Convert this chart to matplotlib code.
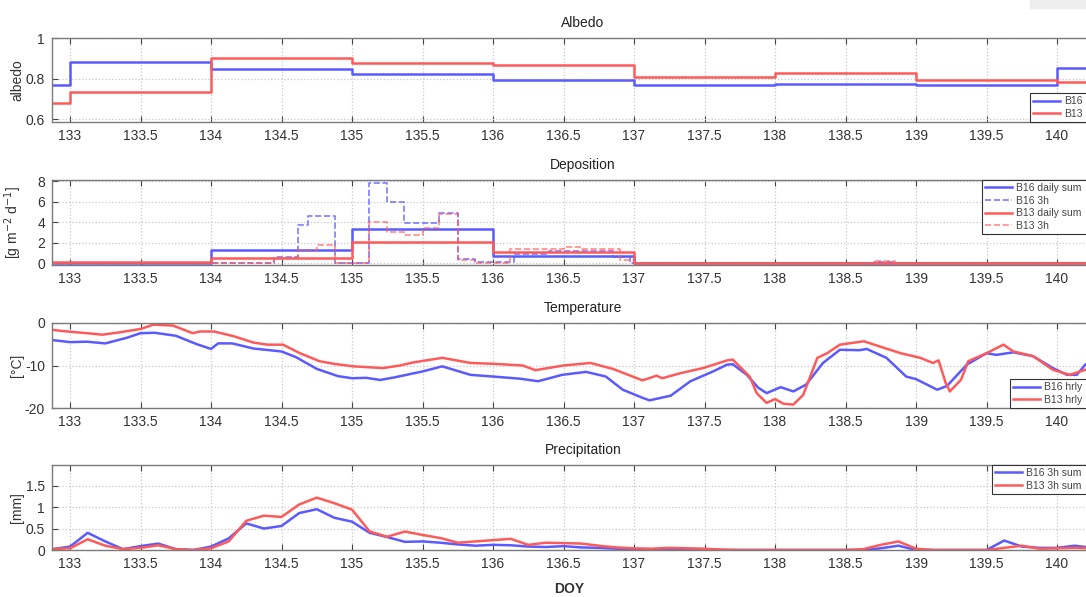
import matplotlib
matplotlib.use("Agg")
import matplotlib.pyplot as plt
from matplotlib.patches import Rectangle

plt.rcParams['font.family'] = ['Liberation Sans', 'DejaVu Sans']

BLUE = '#5a5aff'
RED = '#ff5a5a'

# --- albedo, daily values (step starts) ---
alb_t = [132.5, 133, 134, 135, 136, 137, 138, 139, 140, 141]
alb_b16 = [0.771, 0.884, 0.847, 0.824, 0.795, 0.767, 0.774, 0.771, 0.852, 0.852]
alb_b13 = [0.678, 0.735, 0.900, 0.877, 0.865, 0.806, 0.828, 0.795, 0.784, 0.784]

# --- deposition [g m-2 d-1] ---
dep_day_t = [132.5, 134, 135, 136, 137, 141]
dep_day_b16 = [0.05, 1.3, 3.36, 0.72, 0.05, 0.05]
dep_day_b13 = [0.1, 0.49, 2.1, 1.14, 0.05, 0.05]

dep3_t_b16 = [132.5, 134.45, 134.62, 134.69, 134.88, 135.12, 135.25, 135.37, 135.62,
              135.75, 135.87, 136.15, 136.4, 136.85, 136.97, 138.7, 138.85, 141]
dep3_b16 = [0.05, 0.6, 3.7, 4.6, 0.0, 7.8, 6.0, 3.9, 4.9,
            0.4, 0.1, 0.9, 1.2, 0.6, 0.05, 0.1, 0.05, 0.05]
dep3_t_b13 = [132.5, 134.45, 134.62, 134.75, 134.88, 135.12, 135.25, 135.37, 135.5,
              135.62, 135.75, 135.87, 136.12, 136.5, 136.62, 136.9, 137.0, 138.7,
              138.85, 141]
dep3_b13 = [0.05, 0.5, 1.3, 1.8, 0.0, 4.0, 3.1, 2.8, 3.4,
            4.8, 0.3, 0.0, 1.4, 1.6, 1.4, 0.3, 0.05, 0.25,
            0.05, 0.05]

# --- temperature [degC], hourly ---
temp_t_b16 = [132.87, 133.0, 133.12, 133.25, 133.4, 133.5, 133.6, 133.75, 133.9, 134.0,
              134.05, 134.15, 134.3, 134.5, 134.6, 134.75, 134.9, 135.0, 135.1, 135.2,
              135.3, 135.5, 135.64, 135.84, 136.0, 136.19, 136.32, 136.49, 136.66, 136.8,
              136.92, 137.06, 137.11, 137.26, 137.4, 137.56, 137.66, 137.7, 137.8, 137.88,
              137.94, 138.04, 138.13, 138.22, 138.34, 138.46, 138.6, 138.65, 138.79, 138.93,
              139.0, 139.15, 139.22, 139.36, 139.5, 139.57, 139.69, 139.83, 139.97, 140.07,
              140.14, 140.2, 140.3]
temp_b16 = [-4.0, -4.5, -4.4, -4.8, -3.5, -2.4, -2.3, -3.0, -5.0, -6.1,
            -4.8, -4.8, -6.0, -6.7, -8.0, -10.8, -12.5, -13.0, -12.9, -13.4,
            -12.8, -11.4, -10.2, -12.2, -12.6, -13.1, -13.7, -12.2, -11.5, -12.6,
            -15.7, -17.6, -18.2, -17.1, -13.7, -11.4, -9.8, -9.7, -12.2, -15.2,
            -16.5, -15.1, -16.1, -14.5, -9.4, -6.3, -6.4, -6.1, -8.2, -12.6,
            -13.2, -15.7, -14.8, -9.8, -7.1, -7.5, -6.9, -7.8, -10.6, -12.2,
            -12.2, -9.8, -8.0]
temp_t_b13 = [132.87, 132.98, 133.12, 133.23, 133.35, 133.5, 133.59, 133.73, 133.87, 133.92,
              134.02, 134.16, 134.3, 134.4, 134.51, 134.63, 134.77, 134.87, 135.01, 135.22,
              135.34, 135.43, 135.64, 135.84, 136.0, 136.21, 136.3, 136.5, 136.69, 136.85,
              136.99, 137.06, 137.16, 137.2, 137.33, 137.49, 137.66, 137.7, 137.82, 137.87,
              137.94, 138.0, 138.06, 138.13, 138.2, 138.3, 138.37, 138.46, 138.63, 138.74,
              138.89, 139.03, 139.12, 139.16, 139.21, 139.24, 139.32, 139.37, 139.5, 139.62,
              139.69, 139.83, 139.97, 140.09, 140.2, 140.3]
temp_b13 = [-1.6, -2.0, -2.4, -2.75, -2.2, -1.4, -0.4, -0.6, -2.4, -2.0,
            -2.0, -3.1, -4.6, -5.1, -5.1, -7.1, -9.0, -9.6, -10.2, -10.6,
            -10.0, -9.3, -8.2, -9.4, -9.6, -10.0, -11.1, -10.0, -9.4, -10.8,
            -12.6, -13.5, -12.4, -13.0, -11.8, -10.6, -8.8, -8.6, -12.6, -16.5,
            -18.8, -17.9, -19.0, -19.2, -16.9, -8.2, -7.1, -5.1, -4.3, -5.5,
            -7.1, -8.2, -9.4, -8.8, -14.1, -16.1, -13.3, -9.0, -7.1, -5.1,
            -6.7, -7.8, -11.0, -12.2, -11.0, -10.5]

# --- precipitation [mm], 3h sums ---
prec_t = [132.875, 133.0, 133.125, 133.25, 133.375, 133.5, 133.625, 133.75, 133.875, 134.0,
          134.125, 134.25, 134.375, 134.5, 134.625, 134.75, 134.875, 135.0, 135.125, 135.25,
          135.375, 135.5, 135.625, 135.75, 135.875, 136.0, 136.125, 136.25, 136.375, 136.5,
          136.625, 136.75, 136.875, 137.0, 137.125, 137.25, 137.375, 137.5, 137.625, 137.75,
          137.875, 138.0, 138.125, 138.25, 138.375, 138.5, 138.625, 138.75, 138.875, 139.0,
          139.125, 139.25, 139.375, 139.5, 139.625, 139.75, 139.875, 140.0, 140.125, 140.25]
prec_b16 = [0.02, 0.08, 0.40, 0.20, 0.02, 0.09, 0.15, 0.02, 0.0, 0.08,
            0.27, 0.62, 0.50, 0.56, 0.86, 0.95, 0.75, 0.66, 0.40, 0.30,
            0.19, 0.20, 0.17, 0.13, 0.10, 0.12, 0.11, 0.08, 0.07, 0.09,
            0.06, 0.05, 0.03, 0.02, 0.01, 0.02, 0.0, 0.02, 0.0, 0.0,
            0.0, 0.0, 0.0, 0.0, 0.0, 0.0, 0.0, 0.04, 0.10, 0.0,
            0.0, 0.0, 0.0, 0.0, 0.22, 0.08, 0.05, 0.05, 0.10, 0.05]
prec_b13 = [0.02, 0.04, 0.25, 0.10, 0.02, 0.05, 0.11, 0.02, 0.0, 0.04,
            0.20, 0.68, 0.80, 0.77, 1.06, 1.22, 1.09, 0.94, 0.43, 0.31,
            0.43, 0.35, 0.28, 0.17, 0.20, 0.23, 0.26, 0.12, 0.17, 0.16,
            0.15, 0.10, 0.06, 0.04, 0.03, 0.05, 0.04, 0.03, 0.01, 0.0,
            0.0, 0.0, 0.0, 0.0, 0.0, 0.0, 0.02, 0.12, 0.20, 0.03,
            0.0, 0.0, 0.0, 0.0, 0.05, 0.10, 0.03, 0.04, 0.05, 0.04]

xticks = [133, 133.5, 134, 134.5, 135, 135.5, 136, 136.5, 137, 137.5, 138, 138.5, 139, 139.5, 140]
xtick_labels = ['%g' % v for v in xticks]

W, H = 1086, 597
FRAME = '#7a7a7a'


def style_axis(ax, yticks, ylabels, ylabel, title):
    ax.set_xlim(132.872, 140.404)
    ax.set_xticks(xticks)
    ax.set_xticklabels(xtick_labels)
    ax.set_yticks(yticks)
    ax.set_yticklabels(ylabels)
    ax.grid(True, color='#c8c8c8', linestyle=':', linewidth=0.9)
    ax.tick_params(direction='in', length=4, top=True, right=True, color='#444444',
                   labelsize=10, labelcolor='#333333', pad=5)
    for s in ax.spines.values():
        s.set_color(FRAME)
        s.set_linewidth(1.0)
    ax.set_ylabel(ylabel, fontsize=10, color='#333333', labelpad=3)
    ax.set_title(title, fontsize=10, color='#222222', pad=8)


def legend_at(ax, loc, x_px, y_px, fontsize=7.5):
    # the legend frame runs past the right edge of the figure, as in the screenshot
    leg = ax.legend(loc=loc, bbox_to_anchor=(x_px / W, 1 - y_px / H, (1100 - x_px) / W, 0),
                    bbox_transform=ax.figure.transFigure, mode='expand', fontsize=fontsize,
                    fancybox=False, framealpha=1, edgecolor='#333333',
                    handlelength=2.6, borderaxespad=0, labelspacing=0.25,
                    borderpad=0.3, handletextpad=0.4)
    leg.get_frame().set_linewidth(0.8)
    for t in leg.get_texts():
        t.set_color('#444444')
    return leg


fig = plt.figure(figsize=(W / 100, H / 100), dpi=100)
left = 52 / W
width = 1062 / W


def panel(top_px, bot_px):
    return fig.add_axes([left, 1 - bot_px / H, width, (bot_px - top_px) / H])


# Albedo
ax1 = panel(38, 122)
ax1.step(alb_t, alb_b16, where='post', color=BLUE, lw=1.8, label='B16')
ax1.step(alb_t, alb_b13, where='post', color=RED, lw=1.8, label='B13')
ax1.set_ylim(0.587, 1.0)
style_axis(ax1, [0.6, 0.8, 1.0], ['0.6', '0.8', '1'], 'albedo', 'Albedo')
legend_at(ax1, 'lower left', 1030, 122)

# Deposition
ax2 = panel(180, 265)
ax2.step(dep_day_t, dep_day_b16, where='post', color=BLUE, lw=1.8, label='B16 daily sum')
ax2.step(dep3_t_b16, dep3_b16, where='post', color=BLUE, lw=1.2, ls='--', alpha=0.8, label='B16 3h')
ax2.step(dep_day_t, dep_day_b13, where='post', color=RED, lw=1.8, label='B13 daily sum')
ax2.step(dep3_t_b13, dep3_b13, where='post', color=RED, lw=1.2, ls='--', alpha=0.7, label='B13 3h')
ax2.set_ylim(-0.15, 8.1)
style_axis(ax2, [0, 2, 4, 6, 8], ['0', '2', '4', '6', '8'],
           r'[g m$^{-2}$ d$^{-1}$]', 'Deposition')
legend_at(ax2, 'upper left', 982, 180)

# Temperature
ax3 = panel(323, 408)
ax3.plot(temp_t_b16, temp_b16, color=BLUE, lw=1.8, label='B16 hrly')
ax3.plot(temp_t_b13, temp_b13, color=RED, lw=1.8, label='B13 hrly')
ax3.set_ylim(-20, 0)
style_axis(ax3, [-20, -10, 0], ['-20', '-10', '0'], '[°C]', 'Temperature')
legend_at(ax3, 'lower left', 1010, 408)

# Precipitation
ax4 = panel(465, 550)
ax4.plot(prec_t, prec_b16, color=BLUE, lw=1.8, label='B16 3h sum')
ax4.plot(prec_t, prec_b13, color=RED, lw=1.8, label='B13 3h sum')
ax4.set_ylim(0, 1.98)
style_axis(ax4, [0, 0.5, 1, 1.5], ['0', '0.5', '1', '1.5'], '[mm]', 'Precipitation')
legend_at(ax4, 'upper left', 992, 465)
ax4.set_xlabel('DOY', fontsize=10, fontweight='bold', color='#333333')
ax4.xaxis.set_label_coords((569 - 52) / 1062, -0.38)

for ax in (ax1, ax2, ax3, ax4):
    ax.yaxis.set_label_coords(-0.026, 0.5)

# light grey strip in the top right corner of the screenshot
fig.patches.append(Rectangle((1030 / W, 1 - 8 / H), 56 / W, 8 / H,
                             transform=fig.transFigure, color='#eeeeee', zorder=0))

fig.savefig('out.png', dpi=100)
